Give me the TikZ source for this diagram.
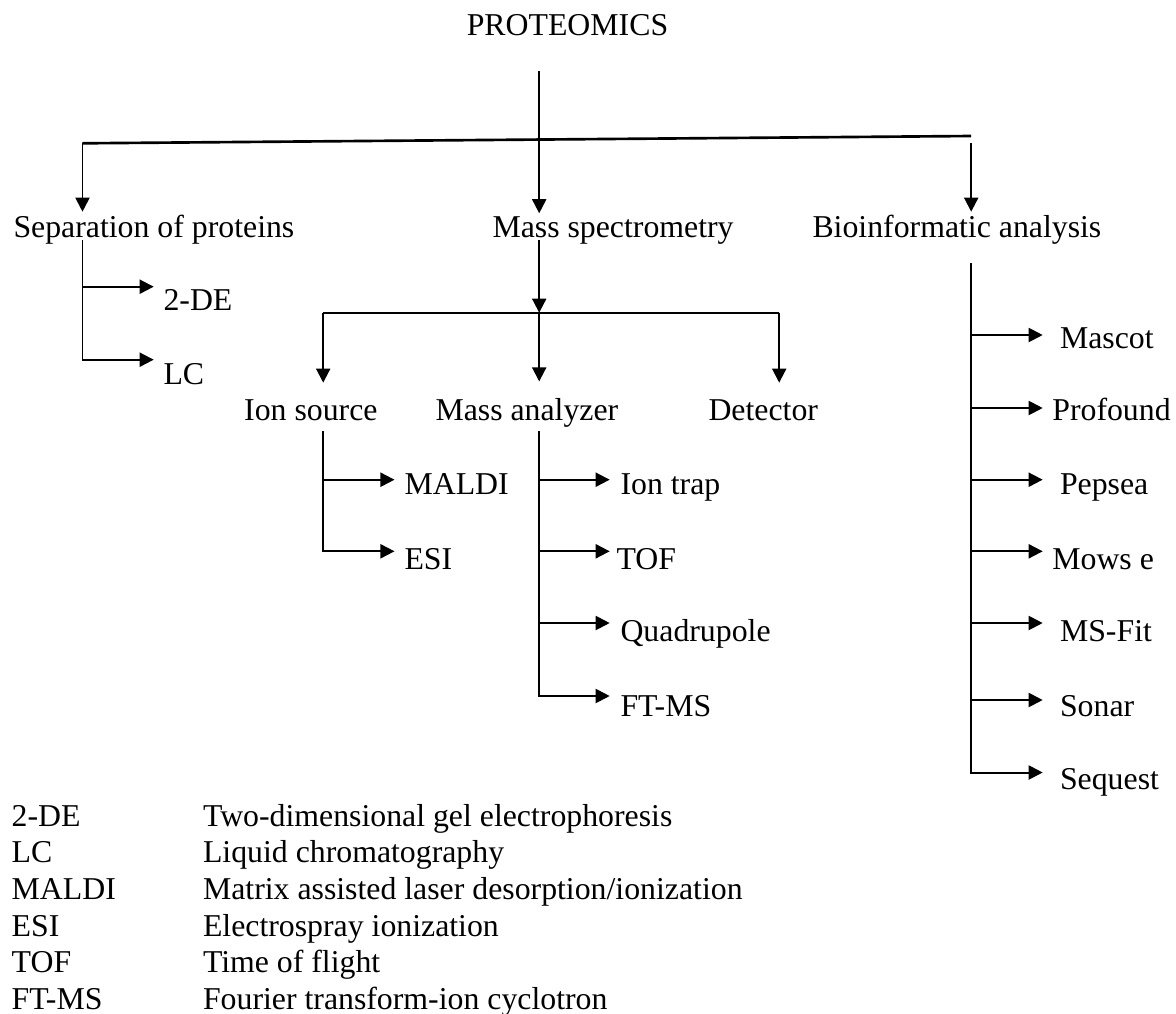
\documentclass[tikz,border=0pt]{standalone}
\usepackage{fontspec}
\setmainfont{Liberation Serif}
\usetikzlibrary{arrows.meta}
\begin{document}
\begin{tikzpicture}[x=0.3774pt,y=-0.3774pt,line join=miter,
  txt/.style={font=\fontsize{12pt}{14pt}\selectfont, inner sep=0pt, anchor=base west},
  ln/.style={line width=0.75pt},
  arr/.style={line width=0.75pt, -{Triangle[length=5.3pt, width=5.3pt]}},
  drop/.style={arr, shorten >=6.3pt}]
\useasboundingbox (0,0) rectangle (1176,1014);
\node[txt, anchor=base] (prot) at (567.5,35) {PROTEOMICS};
\node[txt] (sep) at (13,237) {Separation of proteins};
\node[txt] (ms) at (492,237) {Mass spectrometry};
\node[txt] (bio) at (812,237) {Bioinformatic analysis};
\coordinate (top) at (539.2,71);
\coordinate (barL) at (82.5,143.3);
\coordinate (barR) at (971.2,136);
\coordinate (bioIn) at (971.2,143.3);
\draw [line width=1pt] (barL) -- (barR);
\draw [arr, shorten >=0.9pt] (top) -- (top |- ms.north);
\draw [arr, shorten >=0.9pt] (barL) -- (barL |- sep.north);
\draw [arr, shorten >=0.9pt] (bioIn) -- (bioIn |- bio.north);
\node[txt] (twode) at (163,310) {2-DE};
\node[txt] (lc) at (163,384) {LC};
\coordinate (sepJ) at (82.5,240);
\coordinate (twodeTip) at (153.7,286.7);
\coordinate (lcTip) at (153.7,359.7);
\draw [arr] (sepJ) |- (twodeTip);
\draw [arr] (sepJ) |- (lcTip);
\node[txt] (ion) at (243.7,420.7) {Ion source};
\node[txt] (ma) at (435,420.7) {Mass analyzer};
\node[txt] (det) at (708,420.7) {Detector};
\coordinate (msJ) at (539.2,240);
\coordinate (msBar) at (539.2,312.7);
\coordinate (msL) at (323.2,312.7);
\coordinate (msR) at (779.2,312.7);
\draw [arr] (msJ) -- (msBar);
\draw [ln] (msL) -- (msR);
\draw [drop] (msL) -- (msL |- ion.north);
\draw [drop] (msBar) -- (msBar |- ma.north);
\draw [drop] (msR) -- (msR |- det.north);
\node[txt] (maldi) at (404,494.7) {MALDI};
\node[txt] (esi) at (404,569.7) {ESI};
\coordinate (ionJ) at (323.2,431.3);
\coordinate (maldiTip) at (394.5,479.7);
\coordinate (esiTip) at (394.5,551.3);
\draw [arr] (ionJ) |- (maldiTip);
\draw [arr] (ionJ) |- (esiTip);
\node[txt] (trap) at (620,494.7) {Ion trap};
\node[txt] (tof) at (616,569.7) {TOF};
\node[txt] (quad) at (620,641.3) {Quadrupole};
\node[txt] (ftms) at (620,716) {FT-MS};
\coordinate (maJ) at (539.2,431.3);
\coordinate (trapTip) at (609.7,479.7);
\coordinate (tofTip) at (609.7,551.3);
\coordinate (quadTip) at (609.7,623);
\coordinate (ftmsTip) at (609.7,696);
\draw [arr] (maJ) |- (trapTip);
\draw [arr] (maJ) |- (tofTip);
\draw [arr] (maJ) |- (quadTip);
\draw [arr] (maJ) |- (ftmsTip);
\node[txt] (mascot) at (1059.5,348.3) {Mascot};
\node[txt] (profound) at (1051.8,420.7) {Profound};
\node[txt] (pepsea) at (1059.5,494.7) {Pepsea};
\node[txt] (mowse) at (1051.8,569.7) {Mows e};
\node[txt] (msfit) at (1059.5,641.3) {MS-Fit};
\node[txt] (sonar) at (1059.5,716) {Sonar};
\node[txt] (sequest) at (1059.5,789.3) {Sequest};
\coordinate (bioJ) at (971.2,263.3);
\coordinate (mascotTip) at (1042.7,335);
\coordinate (profoundTip) at (1042.7,408);
\coordinate (pepseaTip) at (1042.7,479.7);
\coordinate (mowseTip) at (1042.7,551.3);
\coordinate (msfitTip) at (1042.7,623);
\coordinate (sonarTip) at (1042.7,700);
\coordinate (sequestTip) at (1042.7,772.5);
\draw [arr] (bioJ) |- (mascotTip);
\draw [arr] (bioJ) |- (profoundTip);
\draw [arr] (bioJ) |- (pepseaTip);
\draw [arr] (bioJ) |- (mowseTip);
\draw [arr] (bioJ) |- (msfitTip);
\draw [arr] (bioJ) |- (sonarTip);
\draw [arr] (bioJ) |- (sequestTip);
\node[txt] (ab1) at (11.2,826) {2-DE};
\node[txt] (ab2) at (11.2,862.7) {LC};
\node[txt] (ab3) at (11.2,899.3) {MALDI};
\node[txt] (ab4) at (11.2,936) {ESI};
\node[txt] (ab5) at (11.2,972.7) {TOF};
\node[txt] (ab6) at (11.2,1009.3) {FT-MS};
\node[txt] (def1) at (202.5,826) {Two-dimensional gel electrophoresis};
\node[txt] (def2) at (202.5,862.7) {Liquid chromatography};
\node[txt] (def3) at (202.5,899.3) {Matrix assisted laser desorption/ionization};
\node[txt] (def4) at (202.5,936) {Electrospray ionization};
\node[txt] (def5) at (202.5,972.7) {Time of flight};
\node[txt] (def6) at (202.5,1009.3) {Fourier transform-ion cyclotron};
\end{tikzpicture}
\end{document}
